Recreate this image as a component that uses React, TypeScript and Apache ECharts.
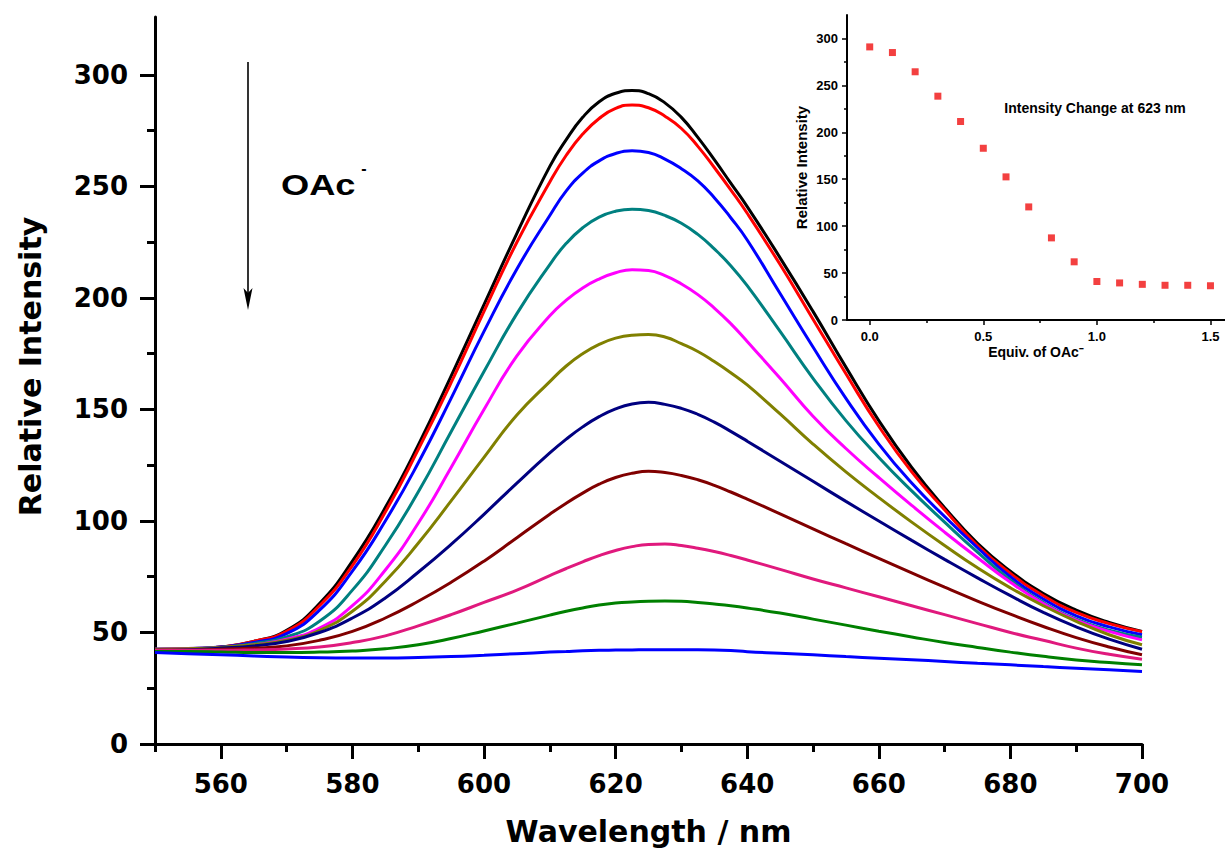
import React, { useEffect, useRef } from "react";
import * as echarts from "echarts";

// Wavelength grid (nm): 5 nm steps, 2.5 nm steps around the band maximum
const wavelengths = [550, 555, 560, 565, 570, 575, 580, 585, 590, 595, 600, 605, 610, 612.5, 615, 617.5, 620, 622.5, 625, 627.5, 630, 632.5, 635, 637.5, 640, 645, 650, 655, 660, 665, 670, 675, 680, 685, 690, 695, 700];

// Emission spectra, one per equivalent of OAc-
const eq00 = [42, 42.5, 43.5, 46, 51, 63, 82, 106, 134, 165, 197, 229, 259, 271, 281, 288, 291.8, 293, 291.6, 287.5, 281, 272, 262, 251.5, 241, 218, 194, 169, 145, 124, 106, 90, 77.5, 67.5, 60, 54.5, 50.5];
const eq01 = [42, 42.5, 43.5, 46, 50.5, 62, 80, 104, 132, 162, 194, 225, 252, 264, 273.5, 280.5, 285, 286.5, 285.3, 281.5, 276, 268, 258.5, 248.5, 238, 215, 190.5, 166, 142.5, 122, 105, 89, 76.5, 66.5, 59, 54, 50.4];
const eq02 = [42.5, 42.8, 43.5, 45.5, 49.5, 60, 77.5, 100, 126, 155, 185, 213, 237, 248, 256, 261.5, 264.8, 266, 265.2, 262.3, 258, 252.5, 245, 236, 226, 202, 178, 155, 134.5, 117, 102, 88, 75, 65, 57.5, 52.5, 49];
const eq03 = [42.5, 42.8, 43.3, 45, 48, 55, 69, 89, 113, 140, 167, 193, 215, 224.5, 231.5, 236.3, 238.9, 239.8, 239.2, 237, 233.5, 228.5, 222, 214.5, 205.5, 185, 164, 145, 128.5, 113.5, 99.5, 86, 73.5, 63.5, 56, 51, 47.9];
const eq04 = [42.5, 42.8, 43.2, 44.5, 47, 52, 62, 78, 99, 124, 150, 174, 192, 199, 204.5, 208.5, 211.3, 212.7, 212.3, 210, 206.3, 201.5, 195.5, 188.5, 180.5, 164, 147, 132.5, 119.5, 107, 95, 83.5, 72.5, 63, 55.5, 50.5, 46.7];
const eq05 = [42.5, 42.7, 43.3, 44.5, 46.5, 51, 59.5, 73, 90, 109, 128.5, 147.5, 162.5, 169.5, 175, 179.2, 182, 183.3, 183.6, 182.5, 179.5, 176, 171.5, 166.5, 161, 148, 134.5, 122, 110.5, 99.5, 89, 79, 70, 62, 55, 49, 44.5];
const eq06 = [42, 42.3, 43, 44, 46, 50, 56.5, 65.5, 77, 89.5, 103, 117, 130.5, 136.7, 142.2, 146.8, 150.3, 152.5, 153.2, 152.3, 150.5, 147.8, 144.3, 140.2, 135.8, 126.8, 117.8, 108.8, 100, 91.3, 82.8, 74.5, 66.5, 59, 52.5, 47, 42.5];
const eq07 = [42, 42, 42.5, 43, 44, 46.5, 50.5, 56.5, 64, 72.5, 82, 92.5, 103, 108, 112.5, 116.5, 119.5, 121.4, 122.3, 121.7, 120.4, 118.5, 116, 113, 109.8, 103.2, 96.5, 89.8, 83.2, 76.7, 70.3, 64.1, 58.2, 52.7, 47.7, 43.5, 40];
const eq08 = [42, 42, 42, 42.2, 42.6, 43.5, 45.5, 48.5, 53, 58, 63.5, 69, 75.5, 78.7, 81.7, 84.5, 86.8, 88.5, 89.5, 89.7, 89, 87.8, 86.3, 84.5, 82.5, 78.3, 74, 70, 66, 62, 58, 54, 50, 46.5, 43, 40.2, 38];
const eq09 = [41.5, 41.5, 41.3, 41, 41, 41.2, 41.7, 42.7, 44.5, 47.3, 50.7, 54.2, 57.8, 59.5, 61, 62.3, 63.2, 63.7, 64, 64.1, 64, 63.5, 62.8, 62, 61, 58.7, 56, 53.3, 50.6, 48, 45.5, 43.3, 41.2, 39.3, 37.7, 36.5, 35.5];
const eq10 = [41, 40.5, 40, 39.5, 39, 38.7, 38.6, 38.6, 38.8, 39.2, 39.8, 40.5, 41.2, 41.5, 41.8, 42, 42.1, 42.2, 42.3, 42.3, 42.3, 42.3, 42.2, 41.9, 41.4, 40.7, 40, 39.2, 38.5, 37.8, 37, 36.2, 35.5, 34.7, 34, 33.3, 32.5];

const spectra = [eq00, eq01, eq02, eq03, eq04, eq05, eq06, eq07, eq08, eq09, eq10];
const spectrumNames = ["0.0 equiv", "0.1 equiv", "0.2 equiv", "0.3 equiv", "0.4 equiv", "0.5 equiv", "0.6 equiv", "0.7 equiv", "0.8 equiv", "0.9 equiv", "1.0 equiv"];
const spectrumColors = ["#000000", "#ff0000", "#0000ff", "#008080", "#ff00ff", "#808000", "#000080", "#800000", "#e0197d", "#008000", "#0000ff"];

// Main axes ticks
const mainXMajor = [560, 580, 600, 620, 640, 660, 680, 700];
const mainXMinor = [550, 570, 590, 610, 630, 650, 670, 690];
const mainYMajor = [0, 50, 100, 150, 200, 250, 300];
const mainYMinor = [25, 75, 125, 175, 225, 275];

// Inset: intensity at 623 nm vs equivalents
const insetEquiv = [0, 0.1, 0.2, 0.3, 0.4, 0.5, 0.6, 0.7, 0.8, 0.9, 1.0, 1.1, 1.2, 1.3, 1.4, 1.5];
const insetIntensity = [291, 285, 264.5, 238.5, 211.5, 183, 152.5, 120.5, 87.5, 62, 41, 39.5, 38, 37, 37, 36.5];
const insetXMajor = [0, 0.5, 1, 1.5];
const insetXMinor = [0.25, 0.75, 1.25];
const insetYMajor = [0, 50, 100, 150, 200, 250, 300];
const insetYMinor = [25, 75, 125, 175, 225, 275];

const MAIN_FONT = "DejaVu Sans";
const INSET_FONT = "Liberation Sans";

export default function App() {
  const ref = useRef<HTMLDivElement>(null);

  useEffect(() => {
    if (!ref.current) return;
    const chart = echarts.init(ref.current, undefined, { renderer: "svg" });

    const mainLabel = { fontFamily: MAIN_FONT, fontWeight: "bold", fontSize: 26, color: "#000" };
    const insetLabel = { fontFamily: INSET_FONT, fontWeight: "bold", fontSize: 13, color: "#000" };

    const lineSeries = spectra.map((arr, k) => ({
      type: "line",
      name: spectrumNames[k],
      xAxisIndex: 0,
      yAxisIndex: 0,
      data: wavelengths.map((w, i) => [w, arr[i]]),
      showSymbol: false,
      symbol: "none",
      smooth: 0.5,
      silent: true,
      lineStyle: { color: spectrumColors[k], width: 3 },
      z: 2 + k,
    }));

    const option: any = {
      animation: false,
      backgroundColor: "#ffffff",
      grid: [
        { left: 155, top: 17, width: 987, height: 727, outerBoundsMode: "none" },
        { left: 847, top: 15, width: 378, height: 305, outerBoundsMode: "none" },
      ],
      xAxis: [
        {
          gridIndex: 0,
          type: "value",
          position: "bottom",
          min: 550,
          max: 700,
          splitLine: { show: false },
          axisLine: { onZero: false, lineStyle: { color: "#000", width: 3 } },
          axisTick: { customValues: mainXMajor, length: 15, lineStyle: { color: "#000", width: 3 } },
          axisLabel: { customValues: mainXMajor, margin: 27, ...mainLabel },
          name: "Wavelength / nm",
          nameLocation: "middle",
          nameGap: 72,
          nameTextStyle: { fontFamily: MAIN_FONT, fontWeight: "bold", fontSize: 30, color: "#000" },
        },
        {
          gridIndex: 0,
          type: "value",
          position: "bottom",
          min: 550,
          max: 700,
          splitLine: { show: false },
          axisLine: { show: false, onZero: false },
          axisTick: { customValues: mainXMinor, length: 8, lineStyle: { color: "#000", width: 3 } },
          axisLabel: { show: false },
        },
        {
          gridIndex: 1,
          type: "value",
          position: "bottom",
          min: -0.1,
          max: 1.564,
          splitLine: { show: false },
          axisLine: { onZero: false, lineStyle: { color: "#000", width: 2 } },
          axisTick: { customValues: insetXMajor, length: 5, lineStyle: { color: "#000", width: 1.5 } },
          axisLabel: { customValues: insetXMajor, margin: 10, formatter: (v: number) => v.toFixed(1), ...insetLabel },
          name: "Equiv. of OAc⁻",
          nameLocation: "middle",
          nameGap: 25,
          nameTextStyle: { fontFamily: INSET_FONT, fontWeight: "bold", fontSize: 14, color: "#000" },
        },
        {
          gridIndex: 1,
          type: "value",
          position: "bottom",
          min: -0.1,
          max: 1.564,
          splitLine: { show: false },
          axisLine: { show: false, onZero: false },
          axisTick: { customValues: insetXMinor, length: 3, lineStyle: { color: "#000", width: 1.5 } },
          axisLabel: { show: false },
        },
      ],
      yAxis: [
        {
          gridIndex: 0,
          type: "value",
          position: "left",
          min: 0,
          max: 326,
          splitLine: { show: false },
          axisLine: { show: true, onZero: false, lineStyle: { color: "#000", width: 3 } },
          axisTick: { show: true, customValues: mainYMajor, length: 15, lineStyle: { color: "#000", width: 3 } },
          axisLabel: { customValues: mainYMajor, margin: 27, ...mainLabel },
          name: "Relative Intensity",
          nameLocation: "middle",
          nameGap: 110,
          nameTextStyle: { fontFamily: MAIN_FONT, fontWeight: "bold", fontSize: 30, color: "#000", padding: [0, 0, 0, 28] },
        },
        {
          gridIndex: 0,
          type: "value",
          position: "left",
          min: 0,
          max: 326,
          splitLine: { show: false },
          axisLine: { show: false, onZero: false },
          axisTick: { show: true, customValues: mainYMinor, length: 8, lineStyle: { color: "#000", width: 3 } },
          axisLabel: { show: false },
        },
        {
          gridIndex: 1,
          type: "value",
          position: "left",
          min: 0,
          max: 325,
          splitLine: { show: false },
          axisLine: { show: true, onZero: false, lineStyle: { color: "#000", width: 2 } },
          axisTick: { show: true, customValues: insetYMajor, length: 5, lineStyle: { color: "#000", width: 1.5 } },
          axisLabel: { customValues: insetYMajor, margin: 9, ...insetLabel },
          name: "Relative Intensity",
          nameLocation: "middle",
          nameGap: 38,
          nameTextStyle: { fontFamily: INSET_FONT, fontWeight: "bold", fontSize: 15, color: "#000" },
        },
        {
          gridIndex: 1,
          type: "value",
          position: "left",
          min: 0,
          max: 325,
          splitLine: { show: false },
          axisLine: { show: false, onZero: false },
          axisTick: { show: true, customValues: insetYMinor, length: 3, lineStyle: { color: "#000", width: 1.5 } },
          axisLabel: { show: false },
        },
      ],
      series: [
        ...lineSeries,
        {
          type: "scatter",
          name: "Intensity at 623 nm",
          xAxisIndex: 2,
          yAxisIndex: 2,
          data: insetEquiv.map((e, i) => [e, insetIntensity[i]]),
          symbol: "rect",
          symbolSize: 7,
          silent: true,
          itemStyle: { color: "#f01010" },
          z: 20,
        },
      ],
      graphic: [
        {
          type: "line",
          shape: { x1: 248, y1: 62, x2: 248, y2: 294 },
          style: { stroke: "#000", lineWidth: 1.6 },
          silent: true,
        },
        {
          type: "polygon",
          shape: { points: [[243.5, 288], [248, 293], [252.5, 288], [248, 310]] },
          style: { fill: "#000" },
          silent: true,
        },
        {
          type: "text",
          x: 281,
          y: 185,
          scaleX: 1.25,
          style: {
            text: "OAc",
            fontFamily: INSET_FONT,
            fontSize: 29,
            fontWeight: "bold",
            fill: "#000",
            verticalAlign: "middle",
            align: "left",
          },
          silent: true,
        },
        {
          type: "text",
          x: 364,
          y: 168,
          style: {
            text: "-",
            fontFamily: INSET_FONT,
            fontSize: 16,
            fontWeight: "bold",
            fill: "#000",
            verticalAlign: "middle",
            align: "center",
          },
          silent: true,
        },
        {
          type: "text",
          x: 1095,
          y: 108,
          style: {
            text: "Intensity Change at 623 nm",
            fontFamily: INSET_FONT,
            fontSize: 14,
            fontWeight: "bold",
            fill: "#000",
            align: "center",
            verticalAlign: "middle",
          },
          silent: true,
        },
      ],
    };

    chart.setOption(option);
    return () => chart.dispose();
  }, []);

  return (
    <div
      ref={ref}
      style={{ position: "fixed", left: 0, top: 0, width: 1225, height: 857, background: "#fff" }}
    />
  );
}
